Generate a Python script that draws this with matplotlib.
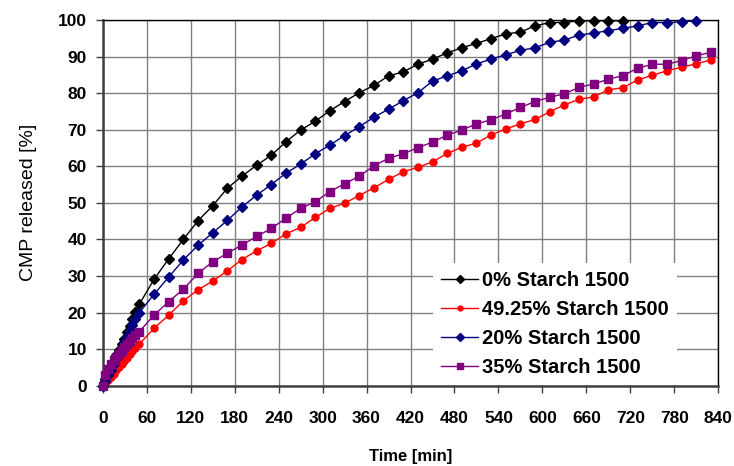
import numpy as np
import matplotlib
matplotlib.use("Agg")
import matplotlib.pyplot as plt

plt.rcParams['font.family'] = ['Liberation Sans', 'DejaVu Sans']

# time points [min]
t_early = [0, 3.7, 7.3, 11, 14.7, 18.3, 22, 25.7, 29.3, 33, 36.7, 40.3, 44]
t_main = [50, 70, 90, 110, 130, 150, 170, 190, 210, 230, 250, 270, 290, 310,
          330, 350, 370, 390, 410, 430, 450, 470, 490, 510, 530, 550, 570, 590,
          610, 630, 650, 670, 690, 710, 730, 750, 770, 790, 810, 830]

# released [%]
s0_early = [0, 1.8, 3.5, 5.2, 6.8, 8.3, 9.8, 11.3, 12.9, 14.6, 16.3, 18.2, 20.2]
s0_main = [22.3, 29.1, 34.7, 40.0, 45.1, 49.2, 54.0, 57.3, 60.3, 63.0, 66.7,
           69.9, 72.3, 75.2, 77.7, 80.1, 82.1, 84.7, 85.8, 87.9, 89.3, 91.0,
           92.4, 93.6, 94.9, 96.2, 96.7, 98.4, 99.3, 99.3, 99.8, 99.8, 99.8, 99.8]

s49_early = [0, 0.6, 1.5, 2.4, 3.3, 4.2, 5.0, 5.9, 6.8, 7.7, 8.6, 9.5, 10.4]
s49_main = [11.4, 15.7, 19.3, 23.2, 26.2, 28.6, 31.4, 34.5, 36.9, 38.9, 41.5,
            43.3, 46.0, 48.5, 49.9, 52.0, 54.1, 56.4, 58.5, 59.7, 61.2, 63.5,
            65.2, 66.3, 68.6, 70.2, 71.6, 72.8, 74.9, 76.8, 78.3, 79.0, 80.9,
            81.5, 83.6, 84.9, 86.1, 87.1, 88.0, 89.1]

s20_early = [0, 1.2, 2.8, 4.3, 5.8, 7.3, 8.8, 10.3, 11.8, 13.3, 14.9, 16.5, 18.3]
s20_main = [20.0, 25.0, 29.7, 34.4, 38.4, 41.8, 45.2, 48.9, 52.1, 55.0, 58.1,
            60.6, 63.4, 65.8, 68.4, 70.8, 73.4, 75.6, 77.9, 80.1, 83.3, 84.7,
            86.1, 88.0, 89.3, 90.5, 91.7, 92.4, 93.9, 94.5, 95.9, 96.4, 97.1,
            97.7, 98.4, 99.3, 99.3, 99.5, 99.8]

s35_early = [0, 2.8, 4.6, 6.0, 7.0, 7.9, 8.8, 9.6, 10.5, 11.4, 12.2, 13.0, 13.9]
s35_main = [14.8, 19.3, 23.0, 26.4, 30.7, 33.9, 36.2, 38.5, 40.8, 43.0, 45.8,
            48.5, 50.3, 53.1, 55.2, 57.3, 60.1, 62.2, 63.4, 65.1, 66.6, 68.5,
            69.9, 71.6, 72.7, 74.3, 76.1, 77.7, 78.9, 79.8, 81.6, 82.5, 83.8,
            84.8, 86.8, 87.9, 87.9, 88.9, 90.2, 91.2]

series = [
    ("0% Starch 1500", s0_early + s0_main, 'black', 'D', 5.2),
    ("49.25% Starch 1500", s49_early + s49_main, '#ff0000', 'o', 5.0),
    ("20% Starch 1500", s20_early + s20_main, '#000080', 'D', 5.2),
    ("35% Starch 1500", s35_early + s35_main, '#800080', 's', 5.3),
]

fig = plt.figure(figsize=(7.34, 4.66), dpi=100)
ax = fig.add_axes([0.140, 0.1723, 0.8386, 0.7848])

t_all = t_early + t_main
for name, vals, col, mk, ms in series:
    tt = t_all[:len(vals)]
    ax.plot(tt, vals, color=col, marker=mk, markersize=ms, lw=1.0,
            label=name, clip_on=False, zorder=3)

ax.set_xlim(0, 840)
ax.set_ylim(0, 100)
ax.set_xticks(np.arange(0, 841, 60))
ax.set_yticks(np.arange(0, 101, 10))
ax.grid(True, color='#808080', lw=1.0)
ax.set_axisbelow(True)

for side in ['top', 'right']:
    ax.spines[side].set_linewidth(1.0)
    ax.spines[side].set_color('black')
for side in ['left', 'bottom']:
    ax.spines[side].set_linewidth(1.8)
    ax.spines[side].set_color('#404040')

ax.tick_params(axis='both', direction='out', length=5, width=1, color='#404040')
ax.tick_params(axis='y', pad=6.5)
ax.tick_params(axis='x', pad=13.5)
for lab in ax.get_xticklabels() + ax.get_yticklabels():
    lab.set_fontsize(12.5)
    lab.set_fontweight('bold')

ax.set_xlabel("Time [min]", fontsize=12, fontweight='bold', labelpad=16)
ax.set_ylabel("CMP released [%]", fontsize=14, labelpad=15)

leg = ax.legend(loc='upper left', bbox_to_anchor=(0.5366, 0.3355),
                borderaxespad=0, frameon=True, fancybox=False,
                handlelength=1.85, handletextpad=0.2, labelspacing=0.5,
                borderpad=0.4, prop={'size': 14.5, 'weight': 'bold'},
                markerscale=0.7)
leg.get_frame().set_facecolor('white')
leg.get_frame().set_edgecolor('none')
leg.get_frame().set_alpha(1)
leg.set_zorder(5)

fig.savefig("out.png", dpi=100)
